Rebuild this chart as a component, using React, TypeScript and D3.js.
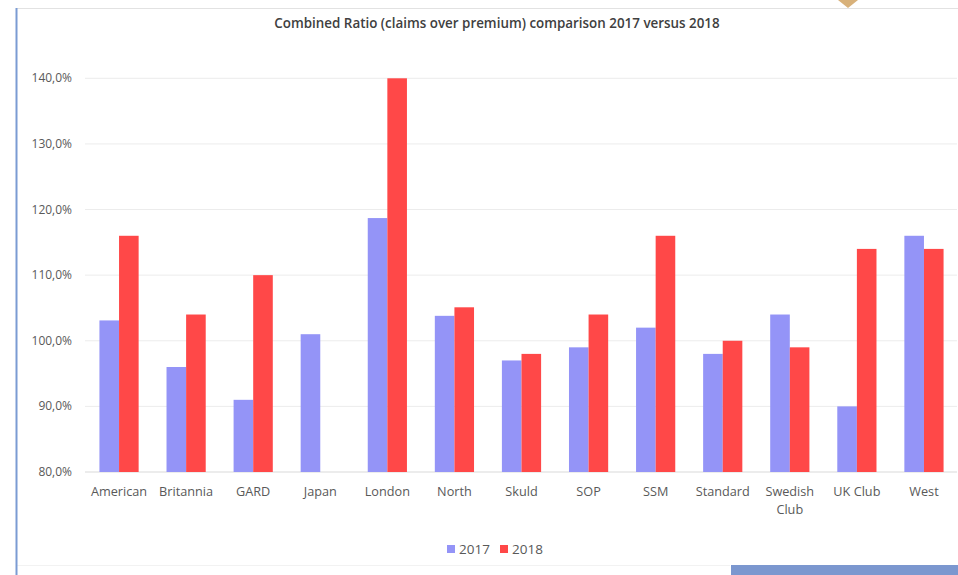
import React from "react";
import * as d3 from "d3";

const categories = ["American", "Britannia", "GARD", "Japan", "London", "North", "Skuld", "SOP", "SSM", "Standard", "Swedish\nClub", "UK Club", "West"];
const values2017: (number | null)[] = [103.1, 96, 91, 101, 118.7, 103.8, 97, 99, 102, 98, 104, 90, 116];
const values2018: (number | null)[] = [116, 104, 110, null, 140, 105.1, 98, 104, 116, 100, 99, 114, 114];
const yTicks = [80, 90, 100, 110, 120, 130, 140];
const seriesNames = ["2017", "2018"];
const seriesColors = ["#9494f7", "#ff4848"];
const title = "Combined Ratio (claims over premium) comparison 2017 versus 2018";

const W = 958;
const H = 575;
const FONT = "'Open Sans', 'Noto Sans', sans-serif";

export default function App() {
  const x = d3.scaleBand<string>().domain(categories).range([85.5, 957.5]).paddingInner(0).paddingOuter(0);
  const y = d3.scaleLinear().domain([80, 140]).range([472, 78.3]);
  const barW = 19.6;
  const series = [values2017, values2018];

  return (
    <svg width={W} height={H} style={{ position: "absolute", left: 0, top: 0, background: "#fff" }}>
      <line x1={17} x2={W} y1={8.5} y2={8.5} stroke="#e2e2e2" strokeWidth={1} />
      <line x1={17} x2={730} y1={565.5} y2={565.5} stroke="#f2f2f2" strokeWidth={1} />
      <line x1={16.5} x2={16.5} y1={8} y2={H} stroke="#7b9bd3" strokeWidth={2} />
      <path d="M838,0 L858,0 L848,8 Z" fill="#d8b17a" />
      <rect x={731} y={565} width={W - 731} height={10} fill="#7b97cf" />

      <text x={497} y={28} textAnchor="middle" fontFamily={FONT} fontSize={13.4} fontWeight={600} fill="#404040">
        {title}
      </text>

      {yTicks.map((t) => (
        <g key={t}>
          <line x1={85} x2={957} y1={y(t)} y2={y(t)} stroke={t === 80 ? "#d9d9d9" : "#ececec"} strokeWidth={1} />
          <text x={72} y={y(t) + 4} textAnchor="end" fontFamily={FONT} fontSize={12} fill="#595959">
            {t.toFixed(1).replace(".", ",") + "%"}
          </text>
        </g>
      ))}

      {categories.map((c, i) => {
        const cx = (x(c) as number) + x.bandwidth() / 2;
        return (
          <g key={c}>
            {series.map((vals, s) => {
              const v = vals[i];
              if (v == null) return null;
              const bx = cx - barW + s * barW;
              return <rect key={s} x={bx} y={y(v)} width={barW} height={y(80) - y(v)} fill={seriesColors[s]} />;
            })}
            {c.split("\n").map((line, k) => (
              <text key={k} x={cx} y={496 + k * 18} textAnchor="middle" fontFamily={FONT} fontSize={12.7} fill="#595959">
                {line}
              </text>
            ))}
          </g>
        );
      })}

      {seriesNames.map((n, s) => {
        const lx = 447 + s * 53;
        return (
          <g key={n}>
            <rect x={lx} y={545} width={8} height={8} fill={seriesColors[s]} />
            <text x={lx + 12} y={554} fontFamily={FONT} fontSize={13.5} fill="#595959">
              {n}
            </text>
          </g>
        );
      })}
    </svg>
  );
}
